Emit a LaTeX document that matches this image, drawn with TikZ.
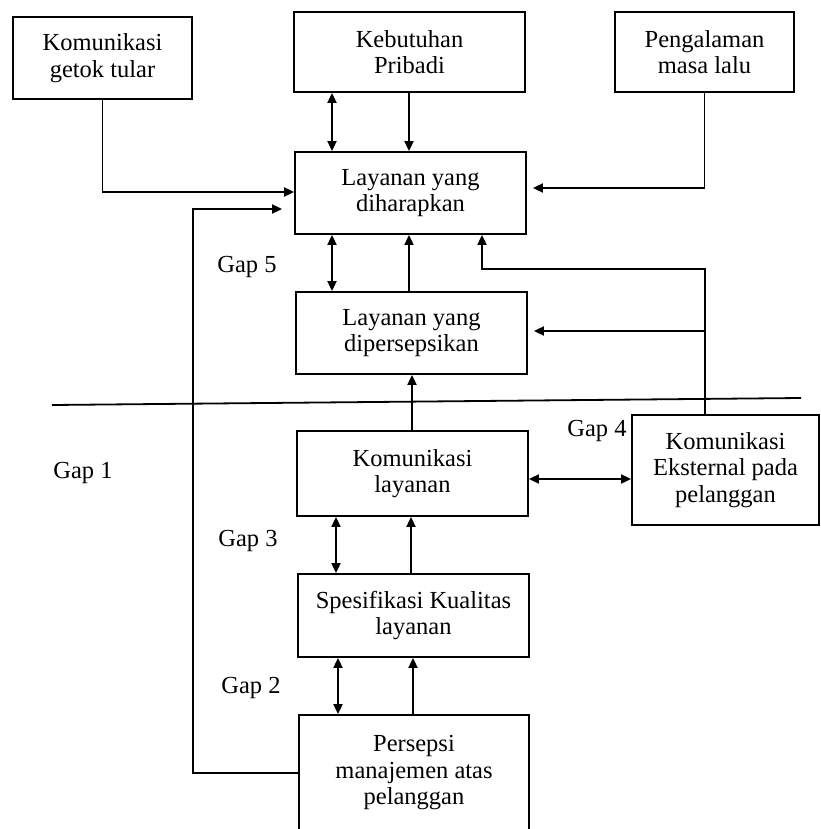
\documentclass[tikz,border=0pt]{standalone}
\usepackage{fontspec}
\setmainfont{Liberation Serif}
\usetikzlibrary{arrows.meta}
\begin{document}
\begin{tikzpicture}[x=1pt,y=-1pt,
  box/.style={draw, line width=1.8pt, rectangle, align=center, inner sep=0pt,
              font=\fontsize{24.5}{26.5}\selectfont},
  gaplabel/.style={font=\fontsize{24.5}{26.5}\selectfont, inner sep=0pt},
  link/.style={line width=1.8pt},
  arr/.style={link, -{Triangle[length=10pt,width=9pt]}},
  darr/.style={link, {Triangle[length=10pt,width=9pt]}-{Triangle[length=10pt,width=9pt]}}]

\useasboundingbox (0,0) rectangle (820,829);
\fill[white] (0,0) rectangle (820,829);
\clip (0,0) rectangle (820,829);

% boxes
\node[box, minimum width=179pt, minimum height=82pt] (kgt) at (102.5,58) {Komunikasi\\getok tular};
\node[box, minimum width=231pt, minimum height=80pt] (kp)  at (409.5,52) {Kebutuhan\\Pribadi};
\node[box, minimum width=179pt, minimum height=80pt] (pml) at (704.5,52) {Pengalaman\\masa lalu};
\node[box, minimum width=231pt, minimum height=82pt] (lyd) at (410.5,193) {Layanan yang\\diharapkan};
\node[box, minimum width=231pt, minimum height=82pt] (lyp) at (411.5,333) {Layanan yang\\dipersepsikan};
\node[box, minimum width=231pt, minimum height=85pt] (kl)  at (412.5,473.5) {Komunikasi\\layanan};
\node[box, minimum width=187pt, minimum height=110pt] (ke) at (725.5,470) {Komunikasi\\Eksternal pada\\pelanggan};
\node[box, minimum width=231pt, minimum height=83pt] (skl) at (413.5,615.5) {Spesifikasi Kualitas\\layanan};
\node[box, minimum width=230pt, minimum height=116pt] (pma) at (414,773) {Persepsi\\manajemen atas\\pelanggan};

% gap labels
\node[gaplabel] (g5) at (247,267) {Gap 5};
\node[gaplabel] (g1) at (83,473) {Gap 1};
\node[gaplabel] (g4) at (597,431) {Gap 4};
\node[gaplabel] (g3) at (248,541) {Gap 3};
\node[gaplabel] (g2) at (251,688) {Gap 2};

% boundary line between customer and provider
\coordinate (hl) at (52,405);
\coordinate (hr) at (801,398);
\draw[link] (hl) -- (hr);

% helper rows and columns
\coordinate (r1) at (0,192);
\coordinate (r2) at (0,188);
\coordinate (r3) at (0,331);
\coordinate (r4) at (0,479);
\coordinate (ca) at (332,0);
\coordinate (cb) at (409,0);
\coordinate (cc) at (412,0);
\coordinate (cd) at (336,0);
\coordinate (ce) at (411,0);
\coordinate (cf) at (338,0);
\coordinate (cg) at (413,0);
\coordinate (ecol) at (705,0);
\coordinate (eup) at (482,269);
\coordinate (loopturn) at (193,209);

% inputs to expected service
\draw[arr] (kgt.south) |- (r1 -| lyd.west);
\draw[arr, shorten >=6pt] (pml.south) |- (r2 -| lyd.east);
\draw[darr] (ca |- kp.south) -- (ca |- lyd.north);
\draw[arr] (cb |- kp.south) -- (cb |- lyd.north);

% expected vs perceived
\draw[darr] (ca |- lyd.south) -- (ca |- lyp.north);
\draw[arr] (cb |- lyp.north) -- (cb |- lyd.south);

% service delivery to perceived service
\draw[arr] (cc |- kl.north) -- (cc |- lyp.south);

% external communication
\draw[arr] (ecol |- ke.north) |- (eup) -- (eup |- lyd.south);
\draw[arr, shorten >=6pt] (ecol |- r3) -- (r3 -| lyp.east);
\draw[darr] (r4 -| kl.east) -- (r4 -| ke.west);

% provider chain
\draw[darr] (cd |- kl.south) -- (cd |- skl.north);
\draw[arr] (ce |- skl.north) -- (ce |- kl.south);
\draw[darr] (cf |- skl.south) -- (cf |- pma.north);
\draw[arr] (cg |- pma.north) -- (cg |- skl.south);

% management perception feeding back to expectations
\draw[arr, shorten >=12pt] (pma.west) -| (loopturn) -- (loopturn -| lyd.west);

\end{tikzpicture}
\end{document}
